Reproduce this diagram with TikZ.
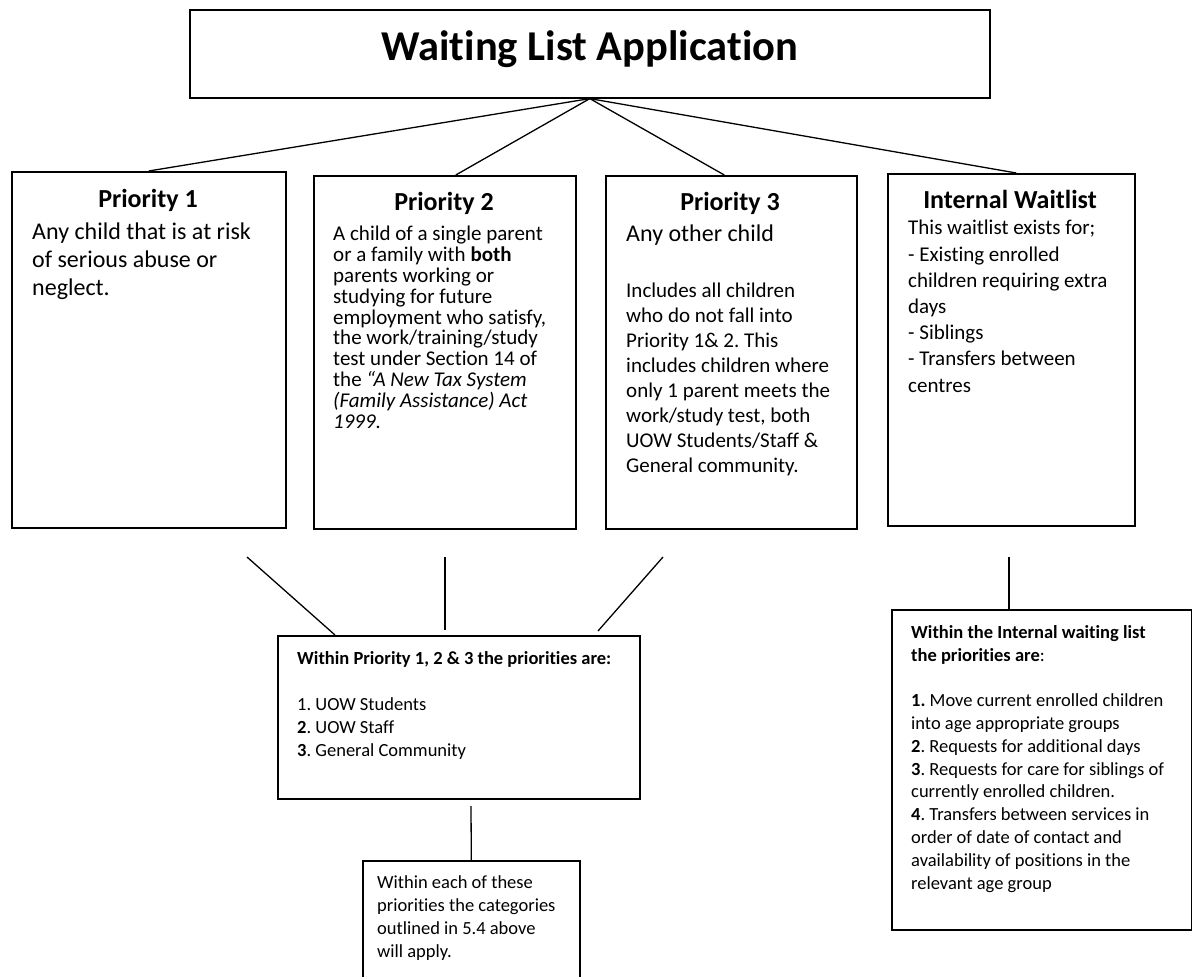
\documentclass[tikz,border=0pt]{standalone}
\usepackage{fontspec}
\setmainfont{Carlito}[Ligatures=NoCommon]
\frenchspacing
\usetikzlibrary{positioning}
\tikzset{
  panel/.style={draw=black,line width=1.6pt,anchor=north west,inner sep=0pt},
  head/.style={anchor=base,inner sep=0pt,font=\bfseries\fontsize{26}{31}\selectfont},
  body/.style={anchor=base west,inner sep=0pt,align=left},
  link/.style={draw=black,line width=1.3pt}
}

\begin{document}
\begin{tikzpicture}[x=1pt,y=-1pt]
  \path[use as bounding box,fill=white] (0,0) rectangle (1192,977);
  \clip (0,0) rectangle (1192,977);
  \node[panel,minimum width=800pt,minimum height=88pt,text height=28pt,text depth=14pt,font=\bfseries\fontsize{42.5}{50}\selectfont] (title) at (189,9) {Waiting List Application};
  \node[panel,minimum width=274pt,minimum height=356pt] (p1) at (11,171) {};
  \node[panel,minimum width=262pt,minimum height=353pt] (p2) at (313,175) {};
  \node[panel,minimum width=251pt,minimum height=353pt] (p3) at (605,175) {};
  \node[panel,minimum width=247pt,minimum height=352pt] (iw) at (887,173) {};
  \node[panel,minimum width=362pt,minimum height=163pt] (mid) at (277,635) {};
  \node[panel,minimum width=300pt,minimum height=320pt] (iwsub) at (891,609) {};
  \node[panel,minimum width=217pt,minimum height=140pt] (last) at (362,860) {};

  % base of a multi-line node is its last line
  \node[head] (p1head) at (148,207) {Priority 1};
  \node[body,font=\fontsize{24}{28}\selectfont] (p1text) at (32,295)
    {Any child that is at risk\\of serious abuse or\\neglect.};
  \node[head] (p2head) at (444,210) {Priority 2};
  \node[body,font=\fontsize{21}{20.8}\selectfont] (p2text) at (333,428)
    {A child of a single parent\\or a family with \textbf{both}\\parents working or\\studying for future\\employment who satisfy,\\the work/training/study\\test under Section 14 of\\the \textit{“A New Tax System}\\\textit{(Family Assistance) Act}\\\textit{1999.}};
  \node[head] (p3head) at (730,210) {Priority 3};
  \node[body,font=\fontsize{24}{28}\selectfont] (p3text) at (626,241) {Any other child};
  \node[body,font=\fontsize{21}{25}\selectfont] (p3more) at (626,472)
    {Includes all children\\who do not fall into\\Priority 1\& 2. This\\includes children where\\only 1 parent meets the\\work/study test, both\\UOW Students/Staff \&\\General community.};
  \node[head] (iwhead) at (1010,208) {Internal Waitlist};
  \node[body,font=\fontsize{21}{26.2}\selectfont] (iwtext) at (908,392)
    {This waitlist exists for;\\{-} Existing enrolled\\children requiring extra\\days\\{-} Siblings\\{-} Transfers between\\centres};
  \node[body,font=\fontsize{18.5}{22.8}\selectfont] (midtext) at (297,756)
    {\textbf{Within Priority 1, 2 \& 3 the priorities are:}\\[22.8pt]1. UOW Students\\\textbf{2}. UOW Staff\\\textbf{3}. General Community};
  \node[body,font=\fontsize{18.5}{22.8}\selectfont] (iwsubtext) at (911,889)
    {\textbf{Within the Internal waiting list}\\\textbf{the priorities are}:\\[22.8pt]\textbf{1.} Move current enrolled children\\into age appropriate groups\\\textbf{2}. Requests for additional days\\\textbf{3}. Requests for care for siblings of\\currently enrolled children.\\\textbf{4}. Transfers between services in\\order of date of contact and\\availability of positions in the\\relevant age group};
  \node[body,font=\fontsize{18.5}{22.8}\selectfont] (lasttext) at (377,957)
    {Within each of these\\priorities the categories\\outlined in 5.4 above\\will apply.};

  \coordinate (c1) at (247,557);
  \coordinate (c2) at (445,557);
  \coordinate (c3) at (663,557);
  \coordinate (c4) at (1009,557);
  \coordinate (c5) at (471,806);
  \draw[link] (title.south) -- (p1.north);
  \draw[link] (title.south) -- ([xshift=11pt]p2.north);
  \draw[link] (title.south) -- ([xshift=-7pt]p3.north);
  \draw[link] (title.south) -- ([xshift=5pt]iw.north);
  \draw[link] (c1) -- ([xshift=58pt]mid.north west);
  \draw[link] (c2) -- ([shift={(168,-5)}]mid.north west);
  \draw[link] (c3) -- ([shift={(321,-4)}]mid.north west);
  \draw[link] (c4) -- (c4 |- iwsub.north);
  \draw[link] (c5) -- (last.north);
\end{tikzpicture}
\end{document}
